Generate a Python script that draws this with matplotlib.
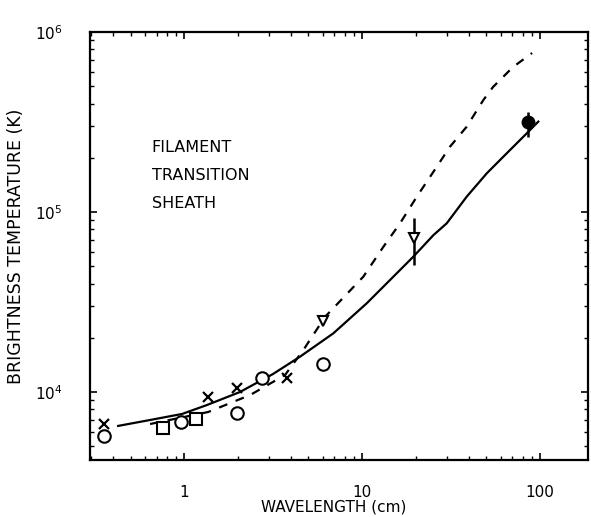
import matplotlib
matplotlib.use("Agg")
import matplotlib.pyplot as plt
import numpy as np

# Solid curve (filament-transition-sheath model)
solid_x = [0.426, 0.644, 0.974, 1.346, 2.06, 3.16, 4.48, 6.90, 10.63, 15.0, 19.42, 25.2, 29.9, 38.7, 50.2, 65.0, 84.2, 97.8]
solid_y = [6480, 6990, 7550, 8470, 10000, 12590, 15710, 21190, 31120, 43750, 56490, 74470, 86500, 121600, 164000, 211900, 273500, 317800]

# Dashed curve
dash_x = [0.644, 1.364, 2.35, 3.69, 4.68, 6.20, 10.17, 13.18, 16.34, 20.3, 25.2, 31.2, 38.7, 48.0, 54.4, 70.5, 90.2]
dash_y = [6640, 7740, 9620, 12420, 17120, 26180, 43750, 64110, 86500, 121600, 167500, 230600, 297700, 418500, 494600, 639000, 764000]

# Observations
circ_x = [0.355, 0.958, 1.977, 2.73, 6.0]
circ_y = [5710, 6840, 7670, 11920, 14310]
cross_x = [0.355, 1.365, 1.977, 3.77]
cross_y = [6640, 9380, 10520, 11960]
sq_x = [0.762, 1.168]
sq_y = [6340, 7080]
tri_x = [6.0, 19.7]
tri_y = [24810, 71500]
tri_lo = [24810, 50800]
tri_hi = [24810, 92600]
fill_x = [86.0]
fill_y = [317000]
fill_lo = [262000]
fill_hi = [360000]

xticks = [1, 10, 100]
xticklabels = ["1", "10", "100"]
yticks = [1e4, 1e5, 1e6]
yticklabels = [r"$10^{4}$", r"$10^{5}$", r"$10^{6}$"]

fig = plt.figure(figsize=(5.91, 5.17), dpi=100)
ax = fig.add_axes([90/591, 57/517, (588-90)/591, (460-32)/517])
ax.set_xscale("log")
ax.set_yscale("log")
ax.set_xlim(0.296, 186)
ax.set_ylim(4190, 1e6)

ax.plot(solid_x, solid_y, color="black", lw=1.6)
ax.plot(dash_x, dash_y, color="black", lw=1.6, ls=(0, (4, 4)))

ms = 9
ax.plot(circ_x, circ_y, ls="none", marker="o", mfc="white", mec="black", mew=1.5, ms=ms)
ax.plot(cross_x, cross_y, ls="none", marker="x", color="black", mew=1.6, ms=7)
ax.plot(sq_x, sq_y, ls="none", marker="s", mfc="white", mec="black", mew=1.5, ms=8)

ty = np.array(tri_y); terr = [ty - np.array(tri_lo), np.array(tri_hi) - ty]
ax.errorbar(tri_x, tri_y, yerr=terr, fmt="v", mfc="white", mec="black", ecolor="black",
            mew=1.5, ms=7, elinewidth=1.8, capsize=0)
fy = np.array(fill_y); ferr = [fy - np.array(fill_lo), np.array(fill_hi) - fy]
ax.errorbar(fill_x, fill_y, yerr=ferr, fmt="o", color="black", ms=9, elinewidth=1.8, capsize=0)

for s in ax.spines.values():
    s.set_linewidth(1.6)

ax.set_xticks(xticks)
ax.set_xticklabels(xticklabels)
ax.set_yticks(yticks)
ax.set_yticklabels(yticklabels)
ax.tick_params(which="both", direction="in", top=True, right=True, colors="black")
ax.tick_params(which="major", length=5, width=1.2, labelsize=11)
ax.tick_params(which="minor", length=3, width=1.0)
ax.tick_params(axis="x", which="major", pad=18)
ax.tick_params(axis="y", which="major", pad=20)

ax.text(0.657, 1.6e5, "FILAMENT\nTRANSITION\nSHEATH", fontsize=11.5, ha="left", va="center",
        linespacing=2.1, family="DejaVu Sans")

ax.set_xlabel("WAVELENGTH (cm)", fontsize=11, va="center")
ax.xaxis.set_label_coords(0.49, -(507 - 460) / 428)
ax.set_ylabel("BRIGHTNESS TEMPERATURE (K)", fontsize=12.5, va="center")
ax.yaxis.set_label_coords(-(90 - 16) / 498, 0.5 + (246 - 246) / 428)

fig.savefig("out.png", dpi=100, facecolor="white")
